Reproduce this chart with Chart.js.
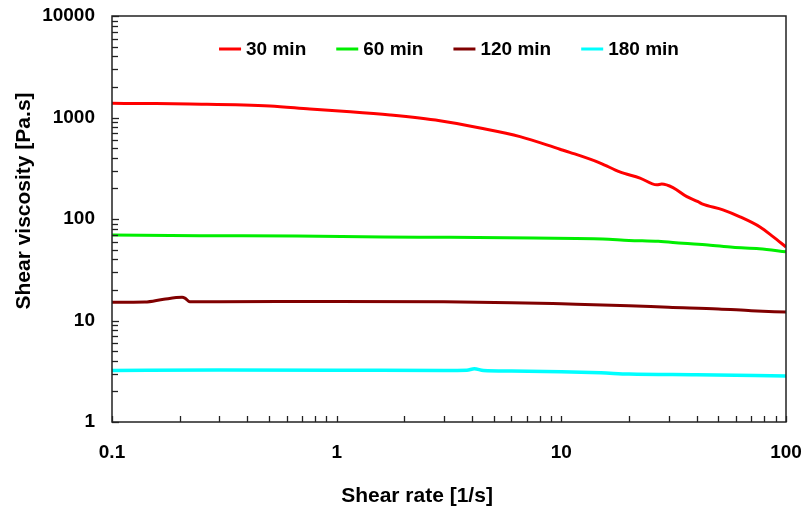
<!DOCTYPE html>
<html>
<head>
<meta charset="utf-8">
<script src="https://cdn.jsdelivr.net/npm/chart.js@4"></script>
<style>
  html, body { margin: 0; padding: 0; background: #fff; }
  #wrap { width: 805px; height: 510px; }
</style>
</head>
<body>
<div id="wrap"><canvas id="viscChart" width="805" height="510"></canvas></div>
<script>
// データ
const seriesLabels = ["30 min", "60 min", "120 min", "180 min"];
const seriesColors = ["#ff0000", "#00ee00", "#800000", "#00ffff"];

const rate30 = [0.1, 0.148, 0.222, 0.505, 0.76, 1.15, 1.73, 2.88, 4.35, 6.55, 9.86, 10.9, 14.9, 18.2, 22.4, 26.6, 28.0, 31.4, 36.2, 40.6, 42.3, 52.4, 62.4, 76.6, 87.5, 100];
const visc30 = [1380, 1372, 1358, 1298, 1212, 1141, 1059, 930, 788, 648, 487, 454, 356, 291, 253, 217, 221, 204, 166, 148, 141, 123, 105, 83.4, 67, 53];

const rate60 = [0.1, 0.246, 0.665, 1.61, 3.19, 7.5, 15.3, 20, 27, 34.8, 45, 58, 76, 100];
const visc60 = [69.5, 68.5, 68, 66.5, 66, 64.9, 63.6, 61.5, 60.2, 57.6, 55.5, 52.6, 51, 47.5];

const rate120 = [0.1, 0.14, 0.17, 0.205, 0.212, 0.222, 0.3, 1, 3, 6, 10, 20, 30, 50, 70, 100];
const visc120 = [15.1, 15.2, 16.2, 16.9, 16.5, 15.3, 15.3, 15.4, 15.3, 15.0, 14.6, 14.0, 13.5, 13.0, 12.5, 12.1];

const rate180 = [0.1, 0.3, 1, 3, 3.8, 4.1, 4.5, 6, 10, 15, 20, 40, 100];
const visc180 = [3.22, 3.25, 3.24, 3.22, 3.24, 3.35, 3.22, 3.18, 3.12, 3.05, 2.97, 2.92, 2.84];

const xTickDecades = [0.1, 1, 10, 100];
const yTickDecades = [1, 10, 100, 1000, 10000];

const xTitle = "Shear rate [1/s]";
const yTitle = "Shear viscosity [Pa.s]";

const allRates = [rate30, rate60, rate120, rate180];
const allVisc = [visc30, visc60, visc120, visc180];

function toPoints(xs, ys) {
  return xs.map((x, i) => ({ x: x, y: ys[i] }));
}

// 対数目盛（1〜9 × 10^n）を作る
function logTicks(decades) {
  const t = [];
  for (let i = 0; i < decades.length - 1; i++) {
    for (let m = 1; m <= 9; m++) t.push(Number((m * decades[i]).toPrecision(3)));
  }
  t.push(decades[decades.length - 1]);
  return t.map(v => ({ value: v }));
}

function isDecade(v) {
  const l = Math.log10(v);
  return Math.abs(l - Math.round(l)) < 1e-9;
}

const FONT = "'Liberation Sans', Arial, sans-serif";

// 枠・内向き目盛・軸タイトル・凡例を描く
const framePlugin = {
  id: "frame",
  afterDraw(chart) {
    const ctx = chart.ctx;
    const a = chart.chartArea;
    const xs = chart.scales.x, ys = chart.scales.y;
    ctx.save();
    ctx.strokeStyle = "#222";
    ctx.lineWidth = 1.3;
    xs.ticks.forEach(t => {
      const px = Math.round(xs.getPixelForValue(t.value)) + 0.5;
      ctx.beginPath();
      ctx.moveTo(px, a.bottom);
      ctx.lineTo(px, a.bottom - 6);
      ctx.stroke();
    });
    ys.ticks.forEach(t => {
      const py = Math.round(ys.getPixelForValue(t.value)) + 0.5;
      ctx.beginPath();
      ctx.moveTo(a.left, py);
      ctx.lineTo(a.left + (isDecade(t.value) ? 7 : 6), py);
      ctx.stroke();
    });
    ctx.lineWidth = 1.5;
    ctx.strokeRect(a.left, a.top, a.right - a.left, a.bottom - a.top);

    // 軸タイトル
    ctx.fillStyle = "#000";
    ctx.font = "bold 21px " + FONT;
    ctx.textAlign = "center";
    ctx.textBaseline = "middle";
    ctx.fillText(xTitle, 417, 496);
    ctx.translate(24, 201);
    ctx.rotate(-Math.PI / 2);
    ctx.fillText(yTitle, 0, 0);
    ctx.restore();

    // 凡例（プロット内の上部）
    ctx.save();
    ctx.font = "bold 19px " + FONT;
    ctx.textBaseline = "middle";
    const lineW = 22, gapText = 5, gapItem = 30;
    const ds = chart.data.datasets;
    const widths = ds.map(d => lineW + gapText + ctx.measureText(d.label).width);
    const total = widths.reduce((s, w) => s + w, 0) + gapItem * (ds.length - 1);
    let x = (a.left + a.right) / 2 - total / 2;
    const y = 49;
    ds.forEach((d, i) => {
      ctx.strokeStyle = d.borderColor;
      ctx.lineWidth = 3;
      ctx.beginPath();
      ctx.moveTo(x, y);
      ctx.lineTo(x + lineW, y);
      ctx.stroke();
      ctx.fillStyle = "#000";
      ctx.fillText(d.label, x + lineW + gapText, y + 1);
      x += widths[i] + gapItem;
    });
    ctx.restore();
  }
};

const ctx = document.getElementById("viscChart").getContext("2d");
new Chart(ctx, {
  type: "line",
  data: {
    datasets: seriesLabels.map((label, i) => ({
      label: label,
      data: toPoints(allRates[i], allVisc[i]),
      borderColor: seriesColors[i],
      backgroundColor: seriesColors[i],
      borderWidth: i === 3 ? 3.5 : 3,
      pointRadius: 0,
      cubicInterpolationMode: "monotone",
      fill: false
    }))
  },
  options: {
    responsive: false,
    animation: false,
    layout: { padding: { top: 16, right: 19, left: 0, bottom: 0 } },
    plugins: {
      legend: { display: false },
      tooltip: { enabled: false }
    },
    scales: {
      x: {
        type: "logarithmic",
        min: xTickDecades[0],
        max: xTickDecades[xTickDecades.length - 1],
        afterBuildTicks: s => { s.ticks = logTicks(xTickDecades); },
        afterFit: s => { s.height = 88; s.paddingLeft = 0; s.paddingRight = 0; },
        grid: { display: false },
        border: { display: false },
        ticks: {
          autoSkip: false,
          maxRotation: 0,
          padding: 11,
          color: "#000",
          font: { family: FONT, size: 19, weight: "bold" },
          callback: v => isDecade(v) ? String(v) : ""
        }
      },
      y: {
        type: "logarithmic",
        min: yTickDecades[0],
        max: yTickDecades[yTickDecades.length - 1],
        afterBuildTicks: s => { s.ticks = logTicks(yTickDecades); },
        afterFit: s => { s.width = 112; s.paddingTop = 0; s.paddingBottom = 0; },
        grid: { display: false },
        border: { display: false },
        ticks: {
          autoSkip: false,
          padding: 9,
          color: "#000",
          font: { family: FONT, size: 19, weight: "bold" },
          callback: v => isDecade(v) ? String(v) : ""
        }
      }
    }
  },
  plugins: [framePlugin]
});
</script>
</body>
</html>
